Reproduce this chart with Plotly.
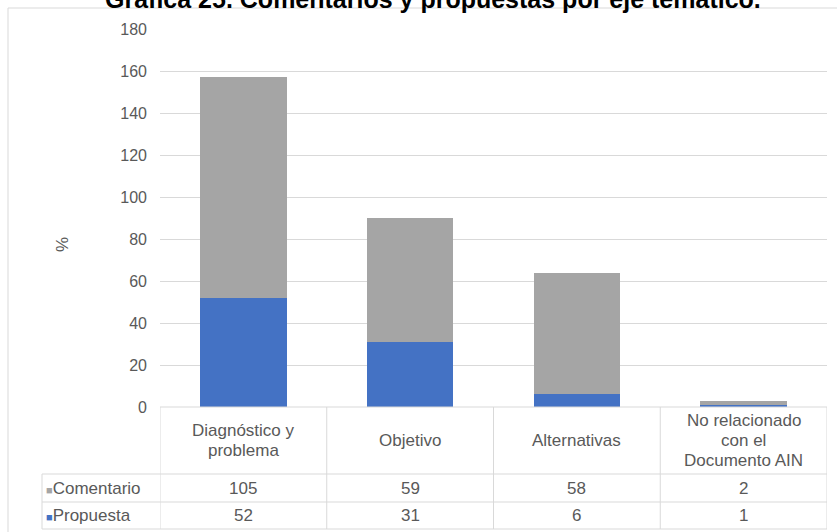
import plotly.graph_objects as go

# Data
categories = ["Diagnóstico y<br>problema", "Objetivo", "Alternativas",
              "No relacionado<br>con el<br>Documento AIN"]
series_names = ["Comentario", "Propuesta"]
comentario = [105, 59, 58, 2]
propuesta = [52, 31, 6, 1]
y_ticks = [0, 20, 40, 60, 80, 100, 120, 140, 160, 180]

title_text = "Gráfica 25. Comentarios y propuestas por eje temático."
y_title = "%"

COLORS = {"Comentario": "#A5A5A5", "Propuesta": "#4472C4"}
TEXT = "#595959"
GRID = "#D9D9D9"
FONT = "Liberation Sans, Arial, sans-serif"
FS = 17

W, H = 837, 532


def px_x(x):
    return x / W


def px_y(y):
    return (H - y) / H


# plot area in pixels
X0, X1 = 160, 827
Y_TOP, Y_ZERO = 29, 407
# table rows in pixels
T_HEAD_BOT, T_MID, T_BOT = 474, 502, 529
T_LEFT = 42

xs = list(range(len(categories)))

fig = go.Figure()
# stacked bars: Propuesta at the bottom, Comentario on top
fig.add_trace(go.Bar(x=xs, y=propuesta, name="Propuesta",
                     marker=dict(color=COLORS["Propuesta"], line_width=0),
                     width=0.52))
fig.add_trace(go.Bar(x=xs, y=comentario, name="Comentario",
                     marker=dict(color=COLORS["Comentario"], line_width=0),
                     width=0.52))

fig.update_layout(
    width=W, height=H, autosize=False,
    margin=dict(l=0, r=0, t=0, b=0, pad=0, autoexpand=False),
    barmode="stack",
    showlegend=False,
    plot_bgcolor="white", paper_bgcolor="white",
    font=dict(family=FONT, color=TEXT, size=FS),
    xaxis=dict(domain=[px_x(X0), px_x(X1)], range=[-0.5, len(categories) - 0.5],
               showticklabels=False, showgrid=False, zeroline=False,
               showline=False, ticks="", automargin=False),
    yaxis=dict(domain=[px_y(Y_ZERO), px_y(Y_TOP)], range=[0, 180],
               tickvals=y_ticks, showgrid=True, gridcolor=GRID, gridwidth=1,
               zeroline=False, showline=False, ticks="", automargin=False,
               ticklabelstandoff=12,
               tickfont=dict(size=16, color=TEXT, family=FONT)),
)

shapes = []
annotations = []

# outer chart frame (left and top edges fall inside the page)
shapes.append(dict(type="rect", xref="paper", yref="paper",
                   x0=px_x(8), x1=px_x(842), y0=px_y(545), y1=px_y(8),
                   line=dict(color="#D9D9D9", width=1), layer="below"))

# data table: horizontal rules
shapes.append(dict(type="line", xref="paper", yref="paper",
                   x0=px_x(X0), x1=px_x(X1), y0=px_y(Y_ZERO), y1=px_y(Y_ZERO),
                   line=dict(color=GRID, width=1)))
for yy in (T_HEAD_BOT, T_MID, T_BOT):
    shapes.append(dict(type="line", xref="paper", yref="paper",
                       x0=px_x(T_LEFT), x1=px_x(X1), y0=px_y(yy), y1=px_y(yy),
                       line=dict(color=GRID, width=1)))
# vertical rules at category boundaries
for i in range(len(categories) + 1):
    shapes.append(dict(type="line", xref="x", yref="paper",
                       x0=i - 0.5, x1=i - 0.5, y0=px_y(T_BOT), y1=px_y(Y_ZERO),
                       line=dict(color=GRID, width=1)))
shapes.append(dict(type="line", xref="paper", yref="paper",
                   x0=px_x(T_LEFT), x1=px_x(T_LEFT), y0=px_y(T_BOT), y1=px_y(T_HEAD_BOT),
                   line=dict(color=GRID, width=1)))

# header cells, one line at a time
head_mid = (Y_ZERO + T_HEAD_BOT) / 2
LINE_H = 20
for i, cat in enumerate(categories):
    lines = cat.split("<br>")
    n = len(lines)
    for k, ln in enumerate(lines):
        yy = head_mid + (k - (n - 1) / 2) * LINE_H
        annotations.append(dict(x=i, xref="x", y=px_y(yy), yref="paper",
                                text=ln, showarrow=False, xanchor="center",
                                yanchor="middle", font=dict(size=FS, color=TEXT)))

# value rows with legend keys
rows = [("Comentario", comentario, (T_HEAD_BOT + T_MID) / 2),
        ("Propuesta", propuesta, (T_MID + T_BOT) / 2)]
for name, vals, yy in rows:
    annotations.append(dict(
        x=px_x(T_LEFT + 2), xref="paper", y=px_y(yy), yref="paper",
        text=f"<span style='color:{COLORS[name]};font-size:11px'>■</span>{name}",
        showarrow=False, xanchor="left", yanchor="middle",
        font=dict(size=FS, color=TEXT)))
    for i, v in enumerate(vals):
        annotations.append(dict(x=i, xref="x", y=px_y(yy), yref="paper",
                                text=str(v), showarrow=False, xanchor="center",
                                yanchor="middle", font=dict(size=FS, color=TEXT)))

# axis title
annotations.append(dict(x=px_x(62), xref="paper", y=px_y(245), yref="paper",
                        text=y_title, textangle=-90, showarrow=False,
                        xanchor="center", yanchor="middle",
                        font=dict(size=FS, color=TEXT)))

# chart title, partly above the page edge
annotations.append(dict(x=px_x(433), xref="paper", y=px_y(-1), yref="paper",
                        text=f"<b>{title_text}</b>", showarrow=False,
                        xanchor="center", yanchor="middle",
                        font=dict(size=25, color="#000000", family=FONT)))

fig.update_layout(shapes=shapes, annotations=annotations)

fig.write_html("out.html")
